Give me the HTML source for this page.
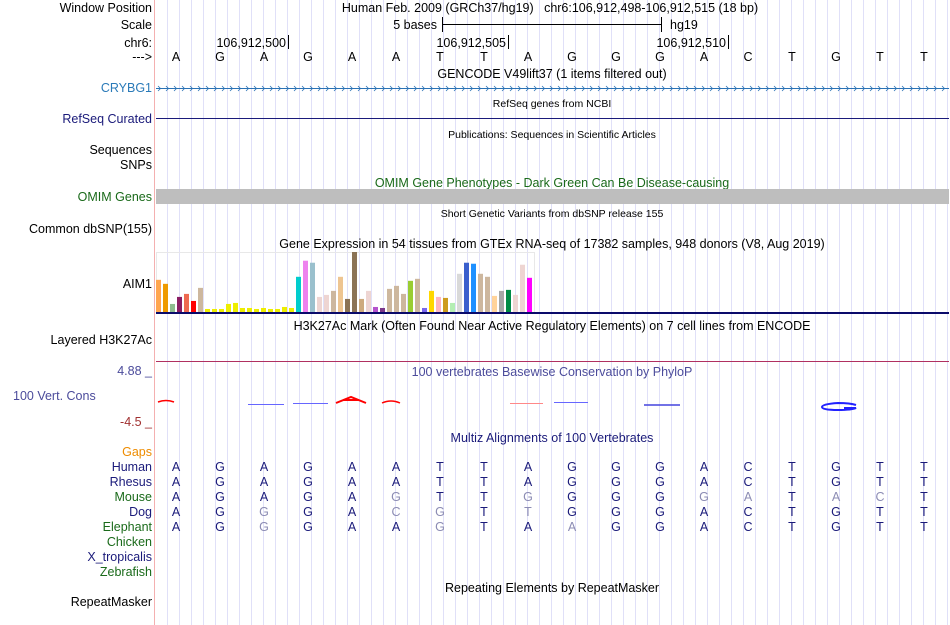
<!DOCTYPE html>
<html><head><meta charset="utf-8"><style>
html,body{margin:0;padding:0;background:#fff}
svg{display:block;font-family:"Liberation Sans",sans-serif}
</style></head><body>
<svg id="c" width="950" height="625" viewBox="0 0 950 625">
<g id="grid"></g>
<line x1="154.5" y1="0" x2="154.5" y2="625" stroke="#f4b0b0"/>
<g id="labels" font-size="12.5" text-anchor="end">
<text x="152" y="12">Window Position</text>
<text x="152" y="29">Scale</text>
<text x="152" y="47">chr6:</text>
<text x="152" y="61">---&gt;</text>
<text x="152" y="92" fill="#2a7ab8">CRYBG1</text>
<text x="152" y="123" fill="#1a1a7a">RefSeq Curated</text>
<text x="152" y="154">Sequences</text>
<text x="152" y="169">SNPs</text>
<text x="152" y="201" fill="#1a6a1a">OMIM Genes</text>
<text x="152" y="233">Common dbSNP(155)</text>
<text x="152" y="288">AIM1</text>
<text x="152" y="344">Layered H3K27Ac</text>
<text x="152" y="375" fill="#4b4b9b">4.88 _</text>
<text x="13" y="400" text-anchor="start" fill="#4b4b9b">100 Vert. Cons</text>
<text x="152" y="426" fill="#a03030">-4.5 _</text>
<text x="152" y="456" fill="#ee8c00">Gaps</text>
<text x="152" y="471" fill="#1a1a7a">Human</text>
<text x="152" y="486" fill="#1a1a7a">Rhesus</text>
<text x="152" y="501" fill="#1a6a1a">Mouse</text>
<text x="152" y="516" fill="#1a1a7a">Dog</text>
<text x="152" y="531" fill="#1a6a1a">Elephant</text>
<text x="152" y="546" fill="#1a6a1a">Chicken</text>
<text x="152" y="561" fill="#1a1a7a">X_tropicalis</text>
<text x="152" y="576" fill="#1a6a1a">Zebrafish</text>
<text x="152" y="606">RepeatMasker</text>
</g>
<g font-size="12.5" text-anchor="middle">
<text x="550" y="12">Human Feb. 2009 (GRCh37/hg19) &#160; chr6:106,912,498-106,912,515 (18 bp)</text>
<text x="552" y="78">GENCODE V49lift37 (1 items filtered out)</text>
<text x="552" y="107" font-size="10.5">RefSeq genes from NCBI</text>
<text x="552" y="138" font-size="10.5">Publications: Sequences in Scientific Articles</text>
<text x="552" y="187" fill="#1a6a1a">OMIM Gene Phenotypes - Dark Green Can Be Disease-causing</text>
<text x="552" y="217" font-size="10.5">Short Genetic Variants from dbSNP release 155</text>
<text x="552" y="248">Gene Expression in 54 tissues from GTEx RNA-seq of 17382 samples, 948 donors (V8, Aug 2019)</text>
<text x="552" y="330">H3K27Ac Mark (Often Found Near Active Regulatory Elements) on 7 cell lines from ENCODE</text>
<text x="552" y="376" fill="#4b4b9b">100 vertebrates Basewise Conservation by PhyloP</text>
<text x="552" y="442" fill="#1a1a7a">Multiz Alignments of 100 Vertebrates</text>
<text x="552" y="592">Repeating Elements by RepeatMasker</text>
</g>
<g font-size="12.5">
<text x="437" y="29" text-anchor="end">5 bases</text>
<line x1="442" y1="24.5" x2="661" y2="24.5" stroke="#000"/>
<line x1="442.5" y1="17" x2="442.5" y2="32" stroke="#000"/>
<line x1="661.5" y1="17" x2="661.5" y2="32" stroke="#000"/>
<text x="670" y="29">hg19</text>
<text x="286" y="47" text-anchor="end">106,912,500</text>
<line x1="288.5" y1="35" x2="288.5" y2="49" stroke="#000"/>
<text x="506" y="47" text-anchor="end">106,912,505</text>
<line x1="508.5" y1="35" x2="508.5" y2="49" stroke="#000"/>
<text x="726" y="47" text-anchor="end">106,912,510</text>
<line x1="728.5" y1="35" x2="728.5" y2="49" stroke="#000"/>
</g>
<g id="bases" font-size="12.5" text-anchor="middle"></g>
<g id="crybg1"><line x1="156" y1="88.5" x2="949" y2="88.5" stroke="#2a72b5"/></g>
<line x1="156" y1="118.5" x2="949" y2="118.5" stroke="#1a1a7a"/>
<rect x="156" y="189" width="793" height="15" fill="#bebebe"/>
<rect x="156.5" y="252.5" width="378" height="60" fill="none" stroke="#e8e8e8"/>
<g id="gtex"></g>
<rect x="156" y="312" width="793" height="2" fill="#0a0a6a"/>
<line x1="156" y1="361.5" x2="949" y2="361.5" stroke="#b03060"/>
<g fill="none" stroke-width="1.5">
<path d="M158 402 Q166 399 174 402" stroke="#f00"/>
<line x1="248" y1="404.5" x2="284" y2="404.5" stroke="#66f" stroke-width="1"/>
<line x1="293" y1="403.5" x2="328" y2="403.5" stroke="#66f" stroke-width="1"/>
<path d="M336 403 L351 397 L366 403 M343 400 L359 400" stroke="#f00" stroke-width="2"/>
<path d="M382 403 Q391 399 400 403" stroke="#f00"/>
<line x1="510" y1="403.5" x2="543" y2="403.5" stroke="#f88" stroke-width="1"/>
<line x1="554" y1="402.5" x2="588" y2="402.5" stroke="#66f" stroke-width="1"/>
<line x1="644" y1="405" x2="680" y2="405" stroke="#44d" stroke-width="1.5"/>
<path d="M856 405 Q850 403 838 403 Q822 404 822 407 Q822 410 838 410 Q852 410 856 408 L844 408" stroke="#22f" stroke-width="2"/>
</g>
<g id="multiz" font-size="12.5" text-anchor="middle"></g>
</svg>
<script>
const refBases = "AGAGAATTAGGGACTGTT";
const species = ["Human","Rhesus","Mouse","Dog","Elephant"];
const seqHuman = "AGAGAATTAGGGACTGTT";
const seqRhesus = "AGAGAATTAGGGACTGTT";
const seqMouse = "AGAGAGTTGGGGGATACT";
const seqDog = "AGGGACGTTGGGACTGTT";
const seqElephant = "AGGGAAGTAAGGACTGTT";
const gtexValues = [96,84,24,45,54,33,72,9,9,9,24,27,12,12,9,12,9,9,15,12,105,153,147,45,51,63,105,39,179,39,63,15,12,69,78,54,93,99,12,63,45,42,27,114,147,144,114,105,48,63,66,51,141,102];
const gtexColors = ["#FFA54F","#EE9A00","#8FBC8F","#8B1C62","#EE6A50","#FF0000","#CDB79E","#EEEE00","#EEEE00","#EEEE00","#EEEE00","#EEEE00","#EEEE00","#EEEE00","#EEEE00","#EEEE00","#EEEE00","#EEEE00","#EEEE00","#EEEE00","#00CDCD","#EE82EE","#9AC0CD","#EED5D2","#EED5D2","#CDB79E","#EEC591","#8B7355","#8B7355","#CDAA7D","#EED5D2","#B452CD","#7A378B","#CDB79E","#CDB79E","#CDB79E","#9ACD32","#CDB79E","#7A67EE","#FFD700","#FFB6C1","#CD9B1D","#B4EEB4","#D9D9D9","#3A5FCD","#1E90FF","#CDB79E","#CDB79E","#FFD39B","#A6A6A6","#008B45","#EED5D2","#EED5D2","#FF00FF"];
const NS="http://www.w3.org/2000/svg";
function mk(t,a,p){const e=document.createElementNS(NS,t);for(const k in a)e.setAttribute(k,a[k]);p.appendChild(e);return e;}
const baseX=i=>176+44*i;
const grid=document.getElementById('grid');
for(let x=167;x<950;x+=12){const l=mk('line',{x1:x+.5,y1:0,x2:x+.5,y2:625,stroke:'#e0e0f8'},grid);

}
const bg=document.getElementById('bases');
for(let i=0;i<refBases.length;i++){const t=mk('text',{x:baseX(i),y:61},bg);t.textContent=refBases[i];

}
const cg=document.getElementById('crybg1');
for(let x=158;x<947;x+=8){const p=mk('path',{d:`M${x} 86 L${x+2.5} 88.5 L${x} 91`,stroke:'#2a72b5',fill:'none','stroke-width':0.8},cg);

}
const gg=document.getElementById('gtex');
const gMax=179, gBase=312, gH=60, gX0=156, gW=7;
const gy=v=>gBase-v/gMax*gH;
gtexValues.forEach((v,i)=>{const r=mk('rect',{x:gX0+i*gW,y:gy(v),width:5,height:gBase-gy(v),fill:gtexColors[i]},gg);

});
const mg=document.getElementById('multiz');
const seqs=[seqHuman,seqRhesus,seqMouse,seqDog,seqElephant];
seqs.forEach((s,r)=>{for(let i=0;i<s.length;i++){const same=s[i]===seqHuman[i];
const t=mk('text',{x:baseX(i),y:471+15*r,fill:same?'#1a1a7a':'#8c8cb4'},mg);t.textContent=s[i];

}});
</script>
</body></html>
